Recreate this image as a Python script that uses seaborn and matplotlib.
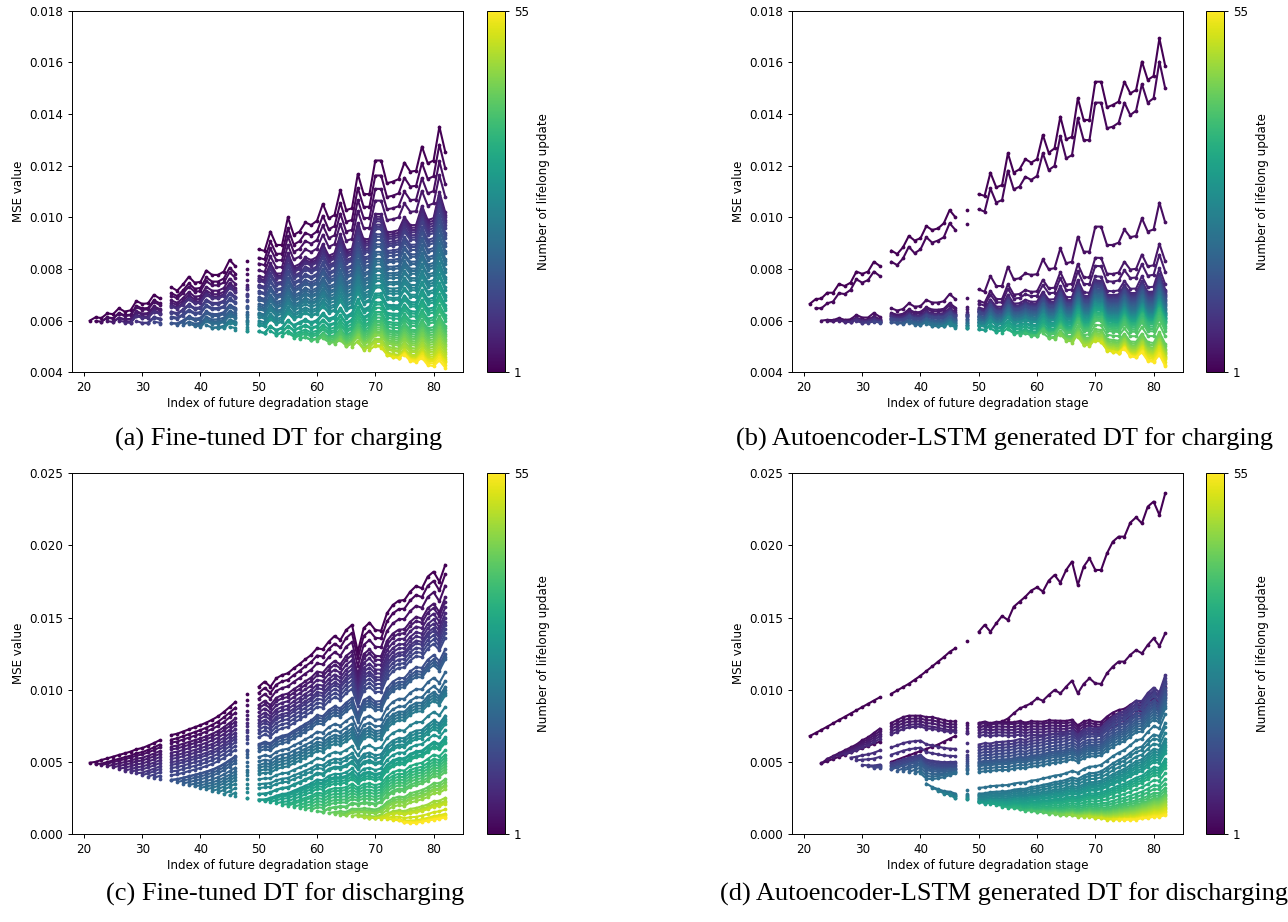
import numpy as np
import pandas as pd
import matplotlib
matplotlib.use("Agg")
import matplotlib.pyplot as plt
import seaborn as sns
from matplotlib.colors import Normalize
from matplotlib.cm import ScalarMappable

nan = np.nan

# Future degradation stages (stages 34, 47 and 49 are not available)
STAGES = list(range(21, 34)) + list(range(35, 47)) + [48] + list(range(50, 83))
N_UPDATES = 55

# ---------------- (a) fine-tuned DT, charging ----------------
TOP_A = [0.00600, 0.00613, 0.00610, 0.00628, 0.00625, 0.00648, 0.00635, 0.00640, 0.00676, 0.00665, 0.00667, 0.00700, 0.00686,
         0.00729, 0.00716, 0.00740, 0.00770, 0.00747, 0.00750, 0.00794, 0.00777, 0.00777, 0.00790, 0.00835, 0.00810,
         0.00830,
         0.00876, 0.00870, 0.00945, 0.00893, 0.00893, 0.01000, 0.00932, 0.00945, 0.00980, 0.00970, 0.00987, 0.01052, 0.00996,
         0.01009, 0.01106, 0.01028, 0.01035, 0.01168, 0.01090, 0.01090, 0.01220, 0.01220, 0.01132, 0.01138, 0.01148, 0.01212,
         0.01177, 0.01180, 0.01274, 0.01209, 0.01220, 0.01351, 0.01254]
LOW_A = [0.00600, 0.00598, 0.00596, 0.00598, 0.00594, 0.00600, 0.00592, 0.00592, 0.00598, 0.00590, 0.00590, 0.00596, 0.00588,
         0.00590, 0.00584, 0.00582, 0.00588, 0.00578, 0.00576, 0.00582, 0.00572, 0.00570, 0.00570, 0.00576, 0.00564,
         0.00560,
         0.00558, 0.00552, 0.00560, 0.00544, 0.00540, 0.00552, 0.00532, 0.00530, 0.00536, 0.00524, 0.00522, 0.00532, 0.00512,
         0.00510, 0.00524, 0.00500, 0.00498, 0.00516, 0.00488, 0.00486, 0.00500, 0.00496, 0.00466, 0.00460, 0.00456, 0.00468,
         0.00444, 0.00440, 0.00456, 0.00428, 0.00424, 0.00446, 0.00418]
END_A = [0.01254, 0.0119, 0.0113, 0.0108, 0.0102, 0.0101, 0.0100, 0.0099, 0.0098, 0.0097, 0.0096, 0.0094, 0.0093, 0.0092,
         0.0090, 0.0089, 0.0087, 0.0086, 0.0084, 0.0083, 0.0082, 0.0080, 0.0079, 0.0077, 0.0076, 0.0075, 0.0073, 0.0072,
         0.0070, 0.0069, 0.0068, 0.0066, 0.0065, 0.0064, 0.0062, 0.0061, 0.0060, 0.0058, 0.0057, 0.0056, 0.0055, 0.0054,
         0.0053, 0.0052, 0.0051, 0.0050, 0.0049, 0.0048, 0.0047, 0.0046, 0.0045, 0.00445, 0.0044, 0.0043, 0.00418]

# ---------------- (b) Autoencoder-LSTM DT, charging ----------------
LINE1_B = [0.00665, 0.00683, 0.00686, 0.00708, 0.00708, 0.00742, 0.00734, 0.00747, 0.00790, 0.00781, 0.00790, 0.00828, 0.00812,
           0.00871, 0.00858, 0.00884, 0.00928, 0.00910, 0.00919, 0.00966, 0.00951, 0.00957, 0.00977, 0.01028, 0.01000,
           0.01028,
           0.01090, 0.01083, 0.01173, 0.01116, 0.01125, 0.01248, 0.01173, 0.01186, 0.01225, 0.01212, 0.01225, 0.01319, 0.01250,
           0.01267, 0.01390, 0.01302, 0.01312, 0.01461, 0.01377, 0.01377, 0.01525, 0.01525, 0.01426, 0.01435, 0.01448, 0.01525,
           0.01480, 0.01493, 0.01603, 0.01532, 0.01547, 0.01693, 0.01586]
LINE2_B = [nan, 0.00648, 0.00648, 0.00667, 0.00674, 0.00706, 0.00703, 0.00719, 0.00760, 0.00747, 0.00757, 0.00790, 0.00773,
           0.00828, 0.00815, 0.00841, 0.00886, 0.00861, 0.00876, 0.00923, 0.00902, 0.00910, 0.00923, 0.00977, 0.00951,
           0.00974,
           0.01031, 0.01022, 0.01112, 0.01057, 0.01067, 0.01181, 0.01108, 0.01119, 0.01157, 0.01145, 0.01160, 0.01248, 0.01183,
           0.01199, 0.01315, 0.01228, 0.01241, 0.01383, 0.01299, 0.01299, 0.01444, 0.01444, 0.01345, 0.01351, 0.01366, 0.01444,
           0.01396, 0.01413, 0.01516, 0.01444, 0.01461, 0.01603, 0.01499]
TOP_B = [nan, nan, 0.00600, 0.00603, 0.00602, 0.00610, 0.00603, 0.00605, 0.00622, 0.00612, 0.00612, 0.00630, 0.00615,
         0.00648, 0.00639, 0.00645, 0.00667, 0.00654, 0.00656, 0.00680, 0.00670, 0.00670, 0.00675, 0.00703, 0.00683,
         0.00686,
         0.00721, 0.00712, 0.00773, 0.00734, 0.00734, 0.00809, 0.00760, 0.00764, 0.00783, 0.00777, 0.00780, 0.00837, 0.00799,
         0.00803, 0.00880, 0.00822, 0.00828, 0.00925, 0.00867, 0.00867, 0.00964, 0.00964, 0.00893, 0.00893, 0.00902, 0.00953,
         0.00923, 0.00928, 0.00996, 0.00945, 0.00953, 0.01057, 0.00980]
LOW_B = [nan, nan, 0.00600, 0.00598, 0.00597, 0.00600, 0.00595, 0.00594, 0.00598, 0.00592, 0.00592, 0.00596, 0.00590,
         0.00594, 0.00590, 0.00588, 0.00592, 0.00585, 0.00583, 0.00588, 0.00580, 0.00578, 0.00578, 0.00584, 0.00572,
         0.00570,
         0.00566, 0.00562, 0.00570, 0.00556, 0.00554, 0.00566, 0.00548, 0.00546, 0.00552, 0.00542, 0.00540, 0.00552, 0.00532,
         0.00530, 0.00546, 0.00522, 0.00515, 0.00538, 0.00505, 0.00502, 0.00522, 0.00518, 0.00484, 0.00480, 0.00476, 0.00492,
         0.00462, 0.00458, 0.00478, 0.00445, 0.00440, 0.00468, 0.00424]
END_B = [0.0098, 0.0083, 0.0079, 0.0074, 0.0072, 0.00715, 0.0071, 0.00705, 0.0070, 0.00695, 0.0069, 0.00685, 0.0068,
         0.00675, 0.0067, 0.00665, 0.0066, 0.00655, 0.0065, 0.00645, 0.0064, 0.00635, 0.0063, 0.0063, 0.00625, 0.0062,
         0.0062, 0.00615, 0.0061, 0.0061, 0.00605, 0.0060, 0.0060, 0.00595, 0.0059, 0.0058, 0.0057, 0.0056, 0.0054,
         0.0051, 0.0050, 0.0049, 0.00485, 0.0048, 0.00475, 0.0047, 0.00465, 0.0046, 0.00455, 0.0045, 0.0044, 0.0043, 0.00424]

# ---------------- (c) fine-tuned DT, discharging ----------------
TOP_C = [0.00494, 0.00500, 0.00513, 0.00524, 0.00536, 0.00548, 0.00559, 0.00571, 0.00587, 0.00596, 0.00612, 0.00630, 0.00650,
         0.00686, 0.00695, 0.00710, 0.00725, 0.00740, 0.00755, 0.00772, 0.00792, 0.00815, 0.00845, 0.00880, 0.00915,
         0.00970,
         0.01021, 0.01056, 0.01021, 0.01079, 0.01102, 0.01114, 0.01148, 0.01178, 0.01211, 0.01241, 0.01287, 0.01280, 0.01333,
         0.01372, 0.01345, 0.01414, 0.01449, 0.01264, 0.01426, 0.01465, 0.01414, 0.01409, 0.01530, 0.01587, 0.01617, 0.01622,
         0.01680, 0.01719, 0.01703, 0.01784, 0.01818, 0.01749, 0.01865]
LOW_C = [0.00494, 0.00485, 0.00478, 0.00470, 0.00462, 0.00452, 0.00440, 0.00430, 0.00420, 0.00408, 0.00398, 0.00388, 0.00378,
         0.00375, 0.00360, 0.00350, 0.00340, 0.00330, 0.00320, 0.00310, 0.00298, 0.00288, 0.00278, 0.00268, 0.00260,
         0.00248,
         0.00238, 0.00228, 0.00222, 0.00212, 0.00204, 0.00196, 0.00188, 0.00180, 0.00172, 0.00165, 0.00158, 0.00152, 0.00146,
         0.00140, 0.00135, 0.00130, 0.00126, 0.00122, 0.00118, 0.00114, 0.00110, 0.00106, 0.00102, 0.00098, 0.00094, 0.00082,
         0.00078, 0.00078, 0.00085, 0.00092, 0.00100, 0.00106, 0.00114]
END_C = [0.01865, 0.0180, 0.0172, 0.0164, 0.0161, 0.0157, 0.0153, 0.0150, 0.0147, 0.0145, 0.0142, 0.0139, 0.0136, 0.0128,
         0.0125, 0.0123, 0.0121, 0.0112, 0.0106, 0.0102, 0.0100, 0.0098, 0.0096, 0.0088, 0.0082, 0.0080, 0.0078, 0.0076,
         0.0072, 0.0067, 0.0066, 0.0064, 0.0063, 0.0058, 0.0055, 0.0053, 0.0051, 0.0049, 0.0047, 0.0045, 0.0043, 0.0038,
         0.0036, 0.0034, 0.0033, 0.0031, 0.0025, 0.0023, 0.0022, 0.0021, 0.0017, 0.0014, 0.0013, 0.0012, 0.00114]

# ---------------- (d) Autoencoder-LSTM DT, discharging ----------------
LINE1_D = [0.00679, 0.00700, 0.00722, 0.00744, 0.00767, 0.00790, 0.00812, 0.00835, 0.00857, 0.00880, 0.00902, 0.00925, 0.00947,
           0.00972, 0.00995, 0.01018, 0.01041, 0.01069, 0.01097, 0.01129, 0.01161, 0.01194, 0.01226, 0.01262, 0.01288,
           0.01341,
           0.01402, 0.01449, 0.01402, 0.01460, 0.01511, 0.01483, 0.01575, 0.01610, 0.01645, 0.01687, 0.01710, 0.01680, 0.01756,
           0.01795, 0.01742, 0.01830, 0.01888, 0.01726, 0.01853, 0.01911, 0.01830, 0.01830, 0.01945, 0.02026, 0.02061, 0.02061,
           0.02158, 0.02195, 0.02153, 0.02269, 0.02304, 0.02211, 0.02361]
LINE2_D = [nan, nan, 0.00490, 0.00505, 0.00520, 0.00535, 0.00550, 0.00565, 0.00580, 0.00595, 0.00610, 0.00625, 0.00640,
           0.00500, 0.00515, 0.00530, 0.00545, 0.00560, 0.00575, 0.00590, 0.00605, 0.00620, 0.00640, 0.00660, 0.00680,
           0.00700,
           0.00740, 0.00750, 0.00760, 0.00770, 0.00780, 0.00800, 0.00836, 0.00870, 0.00887, 0.00906, 0.00940, 0.00924, 0.00963,
           0.00998, 0.00975, 0.01021, 0.01063, 0.00975, 0.01040, 0.01079, 0.01044, 0.01040, 0.01114, 0.01160, 0.01195, 0.01195,
           0.01241, 0.01275, 0.01252, 0.01310, 0.01356, 0.01303, 0.01391]
UP_D = [nan, nan, 0.0049, 0.0052, 0.0054, 0.0056, 0.0058, 0.0060, 0.0062, 0.0065, 0.0067, 0.0070, 0.0073,
        0.0077, 0.0079, 0.0081, 0.0082, 0.0082, 0.0082, 0.0081, 0.0081, 0.0080, 0.0079, 0.0078, 0.0078,
        0.0077,
        0.0077, 0.0078, 0.0077, 0.0078, 0.0078, 0.0078, 0.0078, 0.0079, 0.0078, 0.0079, 0.0079, 0.0079, 0.0080,
        0.0080, 0.0080, 0.0080, 0.0081, 0.0077, 0.0080, 0.0081, 0.0080, 0.0080, 0.0084, 0.0087, 0.0089, 0.0090,
        0.0093, 0.0096, 0.0095, 0.0100, 0.0103, 0.0099, 0.0110]
LOW_D = [nan, nan, 0.0049, 0.0048, 0.0048, 0.0047, 0.0046, 0.0045, 0.0044, 0.0043, 0.0042, 0.0041, 0.0041,
         0.0041, 0.0041, 0.0041, 0.0041, 0.0041, 0.0041, 0.0035, 0.0032, 0.0030, 0.0028, 0.0027, 0.0025,
         0.0024,
         0.0022, 0.0021, 0.0021, 0.0020, 0.0019, 0.0018, 0.0018, 0.0017, 0.0016, 0.0016, 0.0015, 0.0015, 0.0014,
         0.0014, 0.0013, 0.0013, 0.0013, 0.0012, 0.0012, 0.0012, 0.0011, 0.0011, 0.0010, 0.0010, 0.0010, 0.0010,
         0.0010, 0.0010, 0.0011, 0.0011, 0.0012, 0.0012, 0.0013]
# updates 3..29: value where the curve enters stages 35-50, value at stage 46, value at stage 50
FIRST_D = [0.0077, 0.0075, 0.0073, 0.0071, 0.0069, 0.0060, 0.0055, 0.0049, 0.0048, 0.0047, 0.0046, 0.0045, 0.0045,
           0.0044, 0.0044, 0.0043, 0.0042, 0.0042, 0.0035, 0.0032, 0.0030, 0.0028, 0.0027, 0.0025, 0.0024, 0.0024, 0.0022]
AT46_D = [0.0078, 0.0076, 0.0074, 0.0072, 0.0071, 0.0059, 0.0054, 0.0050, 0.0049, 0.0048, 0.0047, 0.0046, 0.0045,
          0.0045, 0.0044, 0.0043, 0.0043, 0.0042, 0.0028, 0.0027, 0.0026, 0.0026, 0.0025, 0.0025, nan, nan, nan]
AT50_D = [0.0077, 0.0076, 0.0074, 0.0072, 0.0070, 0.0068, 0.0062, 0.0060, 0.0058, 0.0056, 0.0054, 0.0052, 0.0050,
          0.0049, 0.0048, 0.0047, 0.0045, 0.0043, 0.0032, 0.0028, 0.0027, 0.0026, 0.0025, 0.0024, 0.0023, 0.0023, 0.0022]
# updates 3..55: value at stage 82
END_D = [0.0105, 0.0102, 0.0100, 0.0098, 0.0096, 0.0094, 0.0110, 0.0108, 0.0106, 0.0104, 0.0101, 0.0099, 0.0097,
         0.0095, 0.0093, 0.0091, 0.0089, 0.0087, 0.0083, 0.0077, 0.0074, 0.0070, 0.0066, 0.0064, 0.0062, 0.0060, 0.0058,
         0.0056, 0.0052, 0.0050, 0.0048, 0.0046, 0.0042, 0.0038, 0.0035, 0.0032, 0.0030, 0.0028, 0.0027, 0.0026, 0.0025,
         0.0024, 0.0023, 0.0022, 0.0021, 0.0020, 0.0019, 0.0018, 0.0017, 0.0016, 0.0015, 0.0014, 0.0013]

CAPTIONS = ["(a) Fine-tuned DT for charging",
            "(b) Autoencoder-LSTM generated DT for charging",
            "(c) Fine-tuned DT for discharging",
            "(d) Autoencoder-LSTM generated DT for discharging"]

STAGE_ARR = np.array(STAGES, dtype=float)


def piece_of(x):
    if x <= 33:
        return 0
    if x <= 46:
        return 1
    if x == 48:
        return 2
    return 3


def first_index(update):
    return next(i for i, x in enumerate(STAGES) if x >= 20 + update)


def shifted_family(top, low, ends, first_update):
    """Curves that leave the lower envelope at their own first stage and
    carry the zig-zag of the upper profile in proportion to their height."""
    top, low = np.asarray(top, float), np.asarray(low, float)
    gap = top - low
    trend = pd.Series(gap).rolling(5, center=True, min_periods=1).median().to_numpy()
    trend = np.fmax.accumulate(np.nan_to_num(trend, nan=0.0))
    ratio = np.where(trend > 1e-9, gap / np.where(trend > 1e-9, trend, 1.0), 1.0)
    curves = {}
    for j, end in enumerate(ends):
        k = first_update + j
        i0 = first_index(k)
        rise = (trend - trend[i0]) * ratio
        a = (end - low[-1]) / rise[-1] if rise[-1] > 0 else 0.0
        a = float(np.clip(a, 0.0, 1.3))
        y = low + a * rise
        if k == first_update and abs(a - 1) < 0.05:
            y = top.copy()
        y[:i0] = nan
        curves[k] = y
    return curves


def weighted_family(up, low, first_vals, at46, at50, ends, first_update):
    """Curves placed between the upper and lower profiles."""
    up, low = np.asarray(up, float), np.asarray(low, float)
    gap = up - low

    def w_at(stage, val):
        i = STAGES.index(stage)
        return (val - low[i]) / gap[i]

    curves = {}
    for j, end in enumerate(ends):
        k = first_update + j
        i0 = first_index(k)
        s = STAGES[i0]
        xs, ws = [], []
        if j < len(first_vals):
            a0 = max(s, 35)
            xs.append(a0)
            ws.append(w_at(a0, first_vals[j]))
            if a0 < 46 and not np.isnan(at46[j]):
                xs.append(46)
                ws.append(w_at(46, at46[j]))
            if a0 < 50:
                xs.append(50)
                ws.append(w_at(50, at50[j]))
        else:
            xs.append(s)
            ws.append(0.0)
        xs.append(82)
        ws.append((end - low[-1]) / gap[-1])
        w = np.interp(STAGE_ARR, xs, ws)
        y = low + w * gap
        y[:i0] = nan
        curves[k] = y
    return curves


def to_frame(curves):
    rows = []
    for k, ys in curves.items():
        for x, v in zip(STAGES, ys):
            if not np.isnan(v):
                rows.append((k, x, piece_of(x), v))
    return pd.DataFrame(rows, columns=["update", "stage", "piece", "mse"])


curves_a = shifted_family(TOP_A, LOW_A, END_A, 1)

curves_b = {1: np.array(LINE1_B, float), 2: np.array(LINE2_B, float)}
curves_b.update(shifted_family(TOP_B, LOW_B, END_B, 3))

curves_c = shifted_family(TOP_C, LOW_C, END_C, 1)

curves_d = {1: np.array(LINE1_D, float), 2: np.array(LINE2_D, float)}
curves_d.update(weighted_family(UP_D, LOW_D, FIRST_D, AT46_D, AT50_D, END_D, 3))

frames = [to_frame(c) for c in (curves_a, curves_b, curves_c, curves_d)]

plt.rcParams["font.family"] = ["DejaVu Sans"]
FS = 8.6
W, H = 1288, 922
fig = plt.figure(figsize=(W / 100, H / 100), dpi=100)

ax_boxes = [(72, 10.7, 463, 372.3), (792, 10.7, 1183, 372.3),
            (72, 473.3, 463, 834), (792, 473.3, 1183, 834)]
cb_x = [487, 1206, 487, 1206]
ylims = [(0.004, 0.018), (0.004, 0.018), (0.0, 0.025), (0.0, 0.025)]
ysteps = [0.002, 0.002, 0.005, 0.005]
cap_pos = [(279, 439), (1004, 439), (285, 894), (1004, 894)]

norm = Normalize(1, N_UPDATES)

for p in range(4):
    x0, y0, x1, y1 = ax_boxes[p]
    ax = fig.add_axes([x0 / W, 1 - y1 / H, (x1 - x0) / W, (y1 - y0) / H])
    sns.lineplot(data=frames[p], x="stage", y="mse", hue="update", units="piece",
                 estimator=None, palette="viridis", hue_norm=(1, N_UPDATES),
                 legend=False, marker="o", markersize=2.7, markeredgewidth=0,
                 linewidth=1.5, ax=ax)
    lo, hi = ylims[p]
    ax.set_ylim(lo, hi)
    ax.set_yticks(np.arange(lo, hi + 1e-9, ysteps[p]))
    ax.yaxis.set_major_formatter(matplotlib.ticker.FormatStrFormatter("%.3f"))
    ax.set_xticks([20, 30, 40, 50, 60, 70, 80])
    ax.tick_params(labelsize=FS, length=3, width=0.7)
    for sp in ax.spines.values():
        sp.set_linewidth(0.7)
    ax.set_xlabel("Index of future degradation stage", fontsize=FS, labelpad=2)
    ax.set_ylabel("MSE value", fontsize=FS, labelpad=3)

    cax = fig.add_axes([cb_x[p] / W, 1 - y1 / H, 18 / W, (y1 - y0) / H])
    cb = fig.colorbar(ScalarMappable(norm=norm, cmap="viridis"), cax=cax, ticks=[1, N_UPDATES])
    cb.outline.set_linewidth(0.7)
    cb.ax.tick_params(labelsize=FS, length=3, width=0.7)
    cb.set_label("Number of lifelong update", fontsize=FS, labelpad=6)

    cx, cy = cap_pos[p]
    fig.text(cx / W, 1 - cy / H, CAPTIONS[p], ha="center", va="center",
             family=["Liberation Serif", "DejaVu Serif"], fontsize=19)

fig.savefig("out.png", dpi=100)
